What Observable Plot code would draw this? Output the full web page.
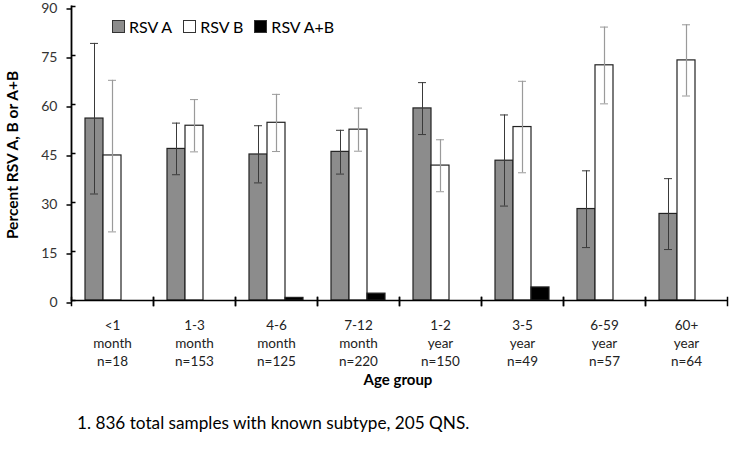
<!DOCTYPE html>
<html>
<head>
<meta charset="utf-8">
<script src="https://cdn.jsdelivr.net/npm/d3@7"></script>
<script src="https://cdn.jsdelivr.net/npm/@observablehq/plot@0.6"></script>
<style>
  body { margin: 0; background: white; font-family: Lato, "Open Sans", sans-serif; }
  #wrap { position: relative; width: 733px; height: 459px; background: white; }
  .ov { position: absolute; white-space: nowrap; color: #000; }
  .legend { position: absolute; left: 112px; top: 17px; display: flex; align-items: center; font-size: 16px; }
  .legend .sw { width: 11px; height: 11px; border: 1px solid #333; margin-right: 4px; }
  .legend .item { display: flex; align-items: center; margin-right: 11px; }
</style>
</head>
<body>
<div id="wrap">
  <div id="chart"></div>
</div>
<script>
// ---- data ----
const groups = ["<1 month", "1-3 month", "4-6 month", "7-12 month", "1-2 year", "3-5 year", "6-59 year", "60+ year"];
const ageLabels = ["<1", "1-3", "4-6", "7-12", "1-2", "3-5", "6-59", "60+"];
const ageUnits = ["month", "month", "month", "month", "year", "year", "year", "year"];
const sampleN = [18, 153, 125, 220, 150, 49, 57, 64];
const seriesNames = ["RSV A", "RSV B", "RSV A+B"];
const rsvA   = [55.7, 46.4, 44.7, 45.5, 58.8, 42.8, 28.0, 26.5];
const rsvALo = [32.6, 38.5, 36.0, 38.7, 50.8, 28.9, 16.2, 15.6];
const rsvAHi = [78.7, 54.3, 53.5, 52.1, 66.7, 56.8, 39.7, 37.3];
const rsvB   = [44.4, 53.5, 54.4, 52.3, 41.3, 53.1, 72.0, 73.5];
const rsvBLo = [21.0, 45.5, 45.6, 45.7, 33.3, 39.1, 60.2, 62.6];
const rsvBHi = [67.4, 61.5, 63.1, 58.9, 49.2, 67.1, 83.7, 84.4];
const rsvAB  = [0, 0, 0.8, 2.1, 0, 4.0, 0, 0];
const yTicks = [0, 15, 30, 45, 60, 75, 90];
const seriesColors = ["#8c8c8c", "#ffffff", "#000000"];
const yTitle = "Percent RSV A, B or A+B";
const xTitle = "Age group";
const footnote = "1. 836 total samples with known subtype, 205 QNS.";

// ---- tables ----
const rows = groups.flatMap((g, i) => [
  {g, s: "RSV A", v: rsvA[i], lo: rsvALo[i], hi: rsvAHi[i]},
  {g, s: "RSV B", v: rsvB[i], lo: rsvBLo[i], hi: rsvBHi[i]},
  {g, s: "RSV A+B", v: rsvAB[i]}
]);
const errA = rows.filter(d => d.s === "RSV A");
const errB = rows.filter(d => d.s === "RSV B");
const capW = 5;

const chart = Plot.plot({
  width: 733, height: 400,
  marginLeft: 67, marginRight: 3, marginTop: 6, marginBottom: 100,
  style: {fontFamily: "Lato, 'Open Sans', sans-serif", background: "white", color: "#000"},
  fx: {domain: groups, padding: 0, label: null},
  x: {domain: seriesNames, paddingInner: 0, paddingOuter: 0.74, axis: null},
  y: {domain: [0, 90], label: null},
  color: {domain: seriesNames, range: seriesColors},
  marks: [
    Plot.barY(rows.filter(d => d.v > 0), {fx: "g", x: "s", y: "v", fill: "s", stroke: "#222", strokeWidth: 1.2, inset: 0}),
    Plot.ruleX(errA, {fx: "g", x: "s", y1: "lo", y2: "hi", stroke: "#3a3a3a", strokeWidth: 1}),
    Plot.tickY(errA, {fx: "g", x: "s", y: "lo", stroke: "#3a3a3a", insetLeft: capW, insetRight: capW}),
    Plot.tickY(errA, {fx: "g", x: "s", y: "hi", stroke: "#3a3a3a", insetLeft: capW, insetRight: capW}),
    Plot.ruleX(errB, {fx: "g", x: "s", y1: "lo", y2: "hi", stroke: "#9a9a9a", strokeWidth: 1.2}),
    Plot.tickY(errB, {fx: "g", x: "s", y: "lo", stroke: "#9a9a9a", insetLeft: capW, insetRight: capW}),
    Plot.tickY(errB, {fx: "g", x: "s", y: "hi", stroke: "#9a9a9a", insetLeft: capW, insetRight: capW}),
    Plot.ruleY([0], {stroke: "#000", strokeWidth: 1.6}),
    Plot.frame({anchor: "left", insetTop: 291, insetBottom: -5, stroke: "#000", strokeWidth: 1.5}),
    Plot.frame({anchor: "right", insetTop: 291, insetBottom: -5, stroke: "#000", strokeWidth: 1.5}),
    // y axis line across the whole plot
    Plot.frame({anchor: "left", facet: "super", stroke: "#000", strokeWidth: 1.8}),
    Plot.axisY({ticks: yTicks, tickSize: 4.5, tickPadding: 9.5, fontSize: 14, dy: 2.5, label: null, stroke: "#000", strokeWidth: 1.5, fill: "#333"}),
    Plot.axisY({ticks: yTicks, tickSize: -4.5, tickFormat: () => "", label: null, stroke: "#000", strokeWidth: 1.5}),
    Plot.axisFx({anchor: "bottom", tickSize: 0, tickPadding: 17, fontSize: 13.5, lineHeight: 1.33, fill: "#222", label: null,
      tickFormat: d => { const i = groups.indexOf(d); return `${ageLabels[i]}\n${ageUnits[i]}\nn=${sampleN[i]}`; }})
  ]
});
document.getElementById("chart").appendChild(chart);

const wrap = document.getElementById("wrap");
// legend
const leg = document.createElement("div");
leg.className = "legend";
seriesNames.forEach((s, i) => {
  const it = document.createElement("div"); it.className = "item";
  const sw = document.createElement("div"); sw.className = "sw"; sw.style.background = seriesColors[i];
  const tx = document.createElement("span"); tx.textContent = s;
  it.appendChild(sw); it.appendChild(tx); leg.appendChild(it);
});
wrap.appendChild(leg);
// y title
const yt = document.createElement("div");
yt.className = "ov"; yt.textContent = yTitle;
Object.assign(yt.style, {left: "12px", top: "155px", fontSize: "15.5px", fontWeight: "bold", transform: "translate(-50%,-50%) rotate(-90deg)"});
wrap.appendChild(yt);
// x title
const xt = document.createElement("div");
xt.className = "ov"; xt.textContent = xTitle;
Object.assign(xt.style, {left: "398px", top: "379px", fontSize: "15px", fontWeight: "bold", transform: "translate(-50%,-50%)"});
wrap.appendChild(xt);
// footnote
const fn = document.createElement("div");
fn.className = "ov"; fn.textContent = footnote;
Object.assign(fn.style, {left: "77px", top: "422px", fontSize: "17.2px", transform: "translate(0,-50%)"});
wrap.appendChild(fn);
</script>
</body>
</html>
